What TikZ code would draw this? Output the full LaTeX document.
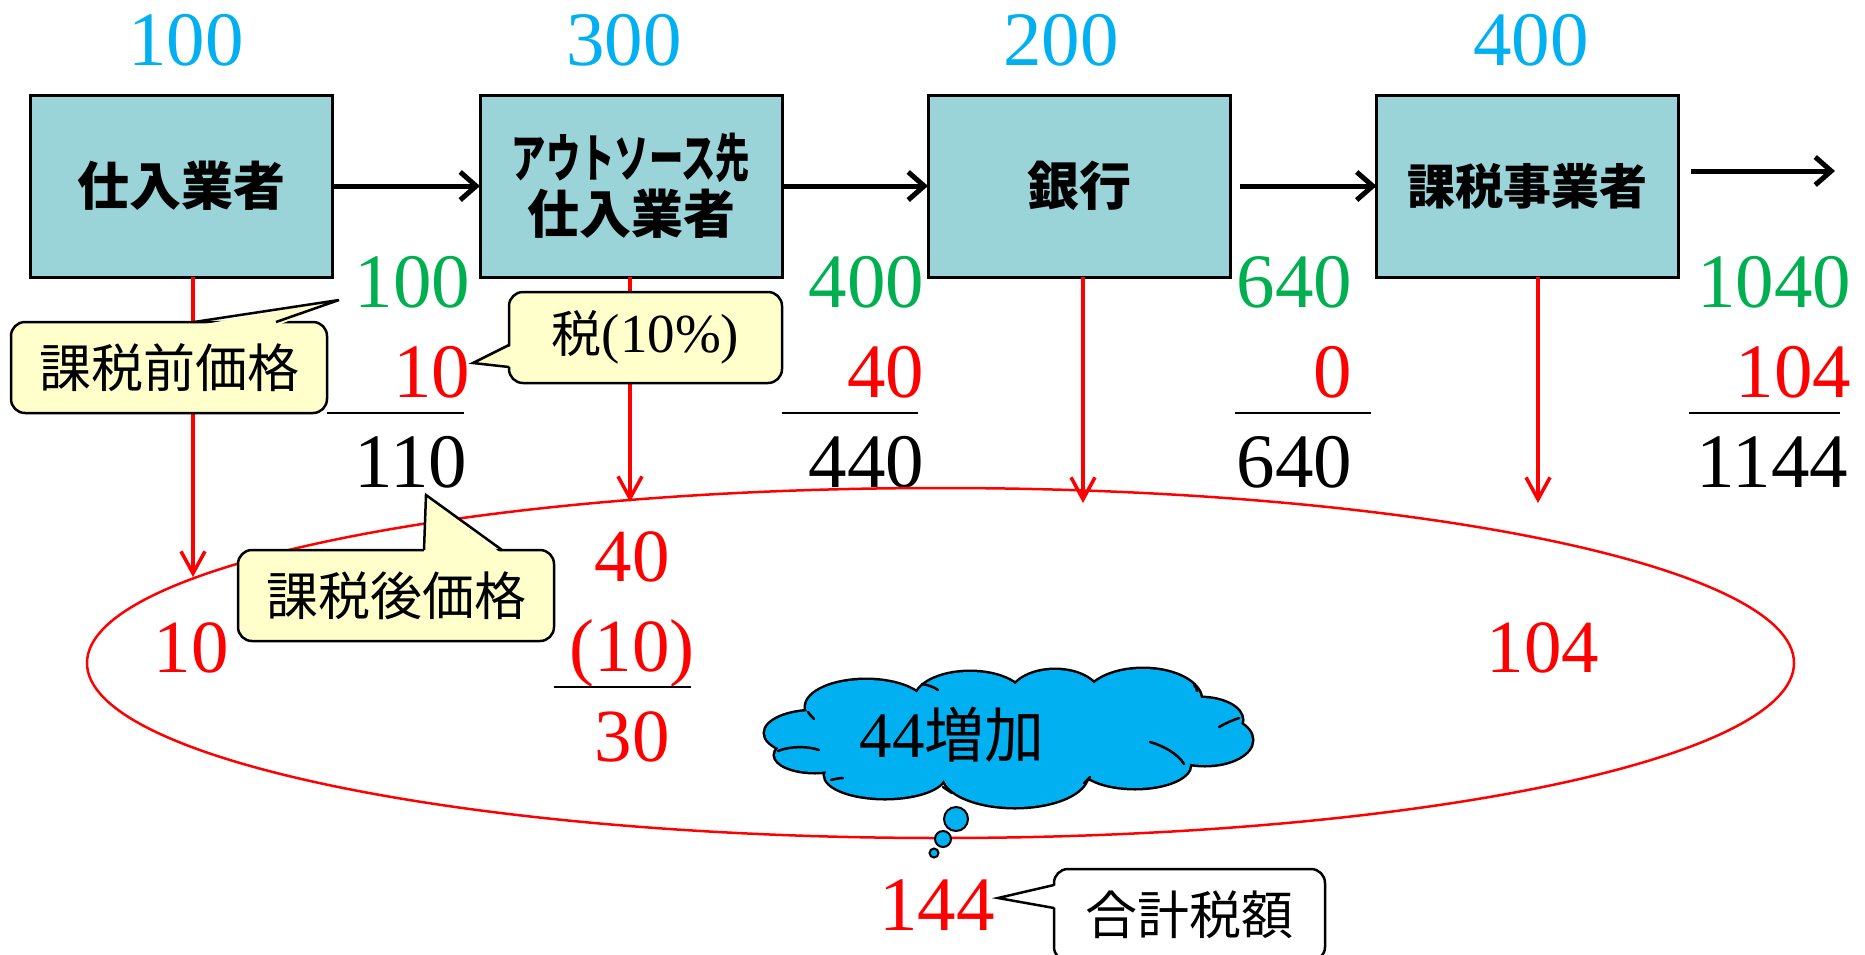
\documentclass[tikz,border=0pt]{standalone}
\usepackage{fontspec}
\setmainfont{Liberation Serif}
\newfontfamily\numf{Liberation Serif}
\newfontfamily\jp{Noto Sans CJK JP}
\usetikzlibrary{arrows.meta,shapes.geometric,calc}
\definecolor{boxfill}{RGB}{155,212,216}
\definecolor{callfill}{RGB}{255,255,204}
\definecolor{skyblue}{RGB}{0,176,240}
\definecolor{grn}{RGB}{0,176,80}
\definecolor{myred}{RGB}{255,0,0}
\begin{document}
\begin{tikzpicture}[x=1pt,y=-1pt,
  firm/.style={draw,line width=3pt,fill=boxfill,minimum width=302pt,minimum height=182pt,inner sep=0pt,outer sep=0pt,align=center,font=\jp\bfseries\fontsize{52}{56}\selectfont},
  flow/.style={line width=5pt,-{Straight Barb[length=16pt,width=28pt]}},
  taxflow/.style={myred,line width=3.5pt,-{Straight Barb[length=22pt,width=24pt]}},
  num/.style={inner sep=0pt,outer sep=0pt,font=\numf\fontsize{77}{77}\selectfont},
  inum/.style={num,text=myred,font=\numf\fontsize{75}{75}\selectfont,anchor=base},
  rule/.style={line width=2pt},
  callbox/.style={draw,line width=2.5pt,fill=callfill,rounded corners=14pt,minimum height=91pt,inner sep=0pt,outer sep=0pt,font=\jp\fontsize{52}{52}\selectfont},
  pointer/.style={line width=2.5pt,line join=miter},
  bubble/.style={circle,draw,line width=2pt,fill=skyblue,inner sep=0pt},
  puffline/.style={line width=2.5pt,line cap=round}
]
\useasboundingbox (0,0) rectangle (1865,954);

% firms
\node[firm] (b1) at (181.5,186) {仕入業者};
\node[firm] (b2) at (631,186) {\scalebox{0.66}[1]{アウトソース先}\\仕入業者};
\node[firm] (b3) at (1079,186) {銀行};
\node[firm,font=\jp\bfseries\fontsize{48}{52}\selectfont] (b4) at (1527.5,186) {課税事業者};

% flows
\draw[flow] (b1) -- (b2);
\draw[flow] (b2) -- (b3);
\draw[flow] ([xshift=10pt]b3.east) -- (b4);
\coordinate (a4s) at (1691,171);
\coordinate (a4e) at (1835,171);
\draw[flow] (a4s) -- (a4e);

% value added
\node[num,text=skyblue,anchor=base] (v1) at (186,65) {100};
\node[num,text=skyblue,anchor=base] (v2) at (624,65) {300};
\node[num,text=skyblue,anchor=base] (v3) at (1061,65) {200};
\node[num,text=skyblue,anchor=base] (v4) at (1531,65) {400};

% price columns
\node[num,text=grn,anchor=base east] (p1) at (470,307) {100};
\node[num,text=myred,anchor=base east] (t1) at (470,397) {10};
\draw[rule] (327,413) -- (464,413);
\node[num,anchor=base east] (s1) at (467,487) {110};

\node[num,text=grn,anchor=base east] (p2) at (924,307) {400};
\node[num,text=myred,anchor=base east] (t2) at (924,397) {40};
\draw[rule] (782,413) -- (918,413);
\node[num,anchor=base east] (s2) at (924,487) {440};

\node[num,text=grn,anchor=base east] (p3) at (1352,307) {640};
\node[num,text=myred,anchor=base east] (t3) at (1352,397) {0};
\draw[rule] (1235,413) -- (1371,413);
\node[num,anchor=base east] (s3) at (1352,487) {640};

\node[num,text=grn,anchor=base east] (p4) at (1851,307) {1040};
\node[num,text=myred,anchor=base east] (t4) at (1851,397) {104};
\draw[rule] (1689,413) -- (1840,413);
\node[num,anchor=base east] (s4) at (1848,487) {1144};

% tax pool
\node[ellipse,draw=myred,line width=2.5pt,minimum width=1707pt,minimum height=350pt,inner sep=0pt] (pool) at (940.5,663) {};
\coordinate (e1) at (193,577);
\coordinate (e2) at (630,502);
\coordinate (e3) at (1083,503);
\coordinate (e4) at (1538,503);
\draw[taxflow] (b1.south -| e1) -- (e1);
\draw[taxflow] (b2.south -| e2) -- (e2);
\draw[taxflow] (b3.south -| e3) -- (e3);
\draw[taxflow] (b4.south -| e4) -- (e4);

\node[inum] (r1) at (191,672) {10};
\node[inum] (r2a) at (632,581) {40};
\node[inum] (r2b) at (632,671) {(10)};
\draw[rule] (554,687) -- (691,687);
\node[inum] (r2c) at (632,761) {30};
\node[inum] (r4) at (1543,672) {104};

% cloud (union of puffs: thick outlines, then fills)
\def\puffs{815/733/50/22, 866/707/60/27, 970/700/55/28, 1055/697/45/27, 1143/700/58/31, 1200/720/42/22, 1205/740/47/25, 1135/765/55/23, 1015/775/72/32, 885/775/60/23, 815/755/40/17, 1008/738/190/45}
\foreach \cx/\cy/\rx/\ry in \puffs
  \draw[line width=5pt] (\cx,\cy) ellipse [x radius=\rx, y radius=\ry];
\foreach \cx/\cy/\rx/\ry in \puffs
  \fill[skyblue] (\cx,\cy) ellipse [x radius=\rx, y radius=\ry];
\draw[puffline] (778,751) .. controls (790,746) and (808,746) .. (819,750);
\draw[puffline] (808,712) .. controls (810,715) and (812,717) .. (814,719);
\draw[puffline] (922,684) .. controls (928,685) and (934,687) .. (938,690);
\draw[puffline] (1194,685) .. controls (1196,687) and (1197,689) .. (1197,691);
\draw[puffline] (1219,727) .. controls (1226,723) and (1233,720) .. (1239,718);
\draw[puffline] (1150,742) .. controls (1164,746) and (1178,754) .. (1184,764);
\draw[puffline] (1084,783) .. controls (1086,781) and (1088,779) .. (1090,777);
\draw[puffline] (943,787) .. controls (946,789) and (949,791) .. (952,793);
\draw[puffline] (831,780) .. controls (835,779) and (839,778) .. (843,778);
\node[inner sep=0pt,anchor=base] (inc) at (952,757) {{\numf\fontsize{65}{65}\selectfont 44}{\jp\fontsize{60}{60}\selectfont 増加}};
\node[bubble,minimum size=24pt] (bb1) at (956,819) {};
\node[bubble,minimum size=16pt] (bb2) at (943,839) {};
\node[bubble,minimum size=9pt] (bb3) at (934,853) {};

\node[num,text=myred,anchor=base] (tot) at (937,930) {144};

% callouts
\node[callbox,minimum width=316pt] (c1) at (169,367.5) {課税前価格};
\coordinate (k1) at (339,300);
\fill[callfill] ($(c1.north west)+(183,4)$) -- (k1) -- ($(c1.north west)+(265,4)$) -- cycle;
\draw[pointer] ($(c1.north west)+(183,0)$) -- (k1) -- ($(c1.north west)+(265,0)$);

\node[callbox,minimum width=273pt] (c2) at (645.5,337.5) {{\jp\fontsize{50}{50}\selectfont 税}{\numf\fontsize{55}{55}\selectfont (10\%)}};
\coordinate (k2) at (473,363);
\fill[callfill] ($(c2.north west)+(4,53)$) -- (k2) -- ($(c2.north west)+(4,75)$) -- cycle;
\draw[pointer] ($(c2.north west)+(0,53)$) -- (k2) -- ($(c2.north west)+(0,75)$);

\node[callbox,minimum width=316pt] (c3) at (396,595.5) {課税後価格};
\coordinate (k3) at (426,495);
\fill[callfill] ($(c3.north west)+(186,4)$) -- (k3) -- ($(c3.north west)+(264,4)$) -- cycle;
\draw[pointer] ($(c3.north west)+(186,0)$) -- (k3) -- ($(c3.north west)+(264,0)$);

\node[callbox,fill=white,minimum width=271pt,minimum height=92pt] (c4) at (1189.5,915) {合計税額};
\coordinate (k4) at (998,898);
\fill[white] ($(c4.north west)+(4,16)$) -- (k4) -- ($(c4.north west)+(4,39)$) -- cycle;
\draw[pointer] ($(c4.north west)+(0,16)$) -- (k4) -- ($(c4.north west)+(0,39)$);
\end{tikzpicture}
\end{document}
